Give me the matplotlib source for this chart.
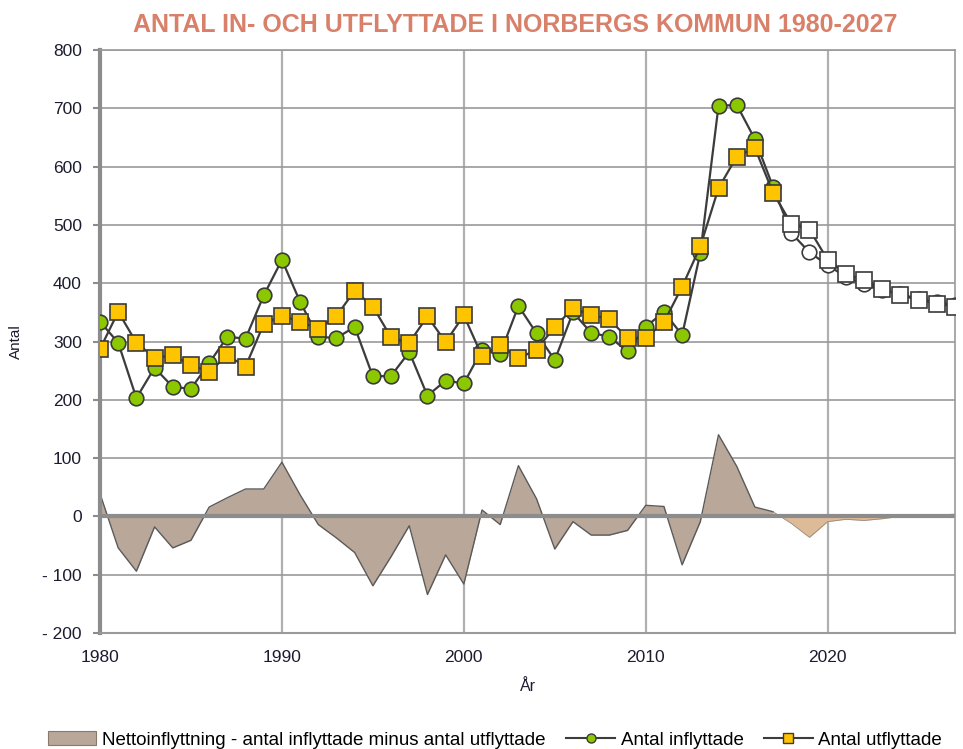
import matplotlib
matplotlib.use("Agg")
import matplotlib.pyplot as plt
from matplotlib.lines import Line2D
from matplotlib.patches import Patch
from matplotlib import font_manager as fm

years = list(range(1980, 2028))

inflyttade = [334, 298, 203, 255, 222, 219, 263, 308, 305, 379,
              440, 368, 308, 306, 325, 240, 241, 282, 207, 233,
              228, 286, 279, 361, 314, 268, 350, 315, 308, 283,
              325, 351, 311, 452, 704, 706, 647, 565, 486, 453,
              431, 411, 398, 388, 381, 373, 367, 363]

utflyttade = [287, 351, 298, 272, 276, 260, 248, 276, 257, 330,
              344, 334, 322, 344, 387, 360, 307, 298, 343, 299,
              345, 275, 294, 271, 286, 325, 357, 346, 338, 306,
              306, 333, 394, 463, 563, 617, 632, 555, 502, 492,
              440, 416, 405, 390, 380, 371, 365, 360]

netto = [39, -54, -94, -18, -54, -41, 16, 32, 47, 47,
         93, 37, -14, -37, -62, -119, -69, -16, -134, -66,
         -116, 11, -14, 87, 30, -56, -9, -32, -32, -24,
         19, 17, -83, -9, 140, 86, 16, 8, -12, -36,
         -9, -5, -7, -4, 0, 1, 2, 4]

last_hist_year = 2017
yticks = [800, 700, 600, 500, 400, 300, 200, 100, 0, -100, -200]
ytick_labels = ["800", "700", "600", "500", "400", "300", "200", "100", "0", "- 100", "- 200"]
xticks = [1980, 1990, 2000, 2010, 2020]

title = "ANTAL IN- OCH UTFLYTTADE I NORBERGS KOMMUN 1980-2027"
leg_labels = ["Nettoinflyttning - antal inflyttade minus antal utflyttade",
              "Antal inflyttade", "Antal utflyttade"]

avail = {f.name for f in fm.fontManager.ttflist}
narrow = "Liberation Sans Narrow" if "Liberation Sans Narrow" in avail else "Liberation Sans"
base = "Liberation Sans" if "Liberation Sans" in avail else "DejaVu Sans"
plt.rcParams['font.family'] = [base, 'DejaVu Sans']

fig = plt.figure(figsize=(9.63, 7.49), dpi=100)
ax = fig.add_axes([100/963, 1-633/749, 855/963, 583/749])

hist_idx = [i for i, y in enumerate(years) if y <= last_hist_year]
fc_idx = [i for i, y in enumerate(years) if y >= last_hist_year]
hy = [years[i] for i in hist_idx]
fy = [years[i] for i in fc_idx]

net_col = "#B9A899"
net_fc_col = "#DEBB98"
ax.fill_between(hy, [netto[i] for i in hist_idx], 0, color=net_col, lw=0, zorder=2)
ax.plot(hy, [netto[i] for i in hist_idx], color="#5a5a5a", lw=1.0, zorder=2.1)
ax.fill_between(fy, [netto[i] for i in fc_idx], 0, color=net_fc_col, lw=0, zorder=2)
ax.plot(fy, [netto[i] for i in fc_idx], color="#9a8a7a", lw=0.6, zorder=2.1)

ax.axhline(0, color="#8c8c8c", lw=3, zorder=2.5)

line_col = "#3c3c3c"
edge_col = "#3a3a3a"
green = "#8CC800"
yellow = "#FFC400"

ax.plot(hy, [inflyttade[i] for i in hist_idx], color=line_col, lw=1.6, marker="o",
        ms=10.5, mfc=green, mec=edge_col, mew=1.2, zorder=4)
ax.plot(fy, [inflyttade[i] for i in fc_idx], color=line_col, lw=1.6, marker="o",
        ms=10.5, mfc="white", mec=edge_col, mew=1.2, markevery=list(range(1, len(fy))), zorder=3.5)
ax.plot(hy, [utflyttade[i] for i in hist_idx], color=line_col, lw=1.6, marker="s",
        ms=11, mfc=yellow, mec=edge_col, mew=1.2, zorder=5)
ax.plot(fy, [utflyttade[i] for i in fc_idx], color=line_col, lw=1.6, marker="s",
        ms=11, mfc="white", mec=edge_col, mew=1.2, markevery=list(range(1, len(fy))), zorder=4.5)

ax.set_xlim(1980, 2027)
ax.set_ylim(-200, 800)
ax.set_yticks(yticks)
ax.set_yticklabels(ytick_labels)
ax.set_xticks(xticks)
ax.tick_params(axis='both', labelsize=12.5, colors="#1c1c30")
ax.tick_params(axis='y', color="#8c8c8c", length=5, width=1.5, pad=8)
ax.tick_params(axis='x', length=0, pad=12)

ax.grid(True, axis='y', color="#9a9a9a", lw=1.2, zorder=1)
ax.grid(True, axis='x', color="#b0b0b0", lw=1.6, zorder=1)
ax.set_axisbelow(True)

for s in ['top', 'right']:
    ax.spines[s].set_color("#9a9a9a")
    ax.spines[s].set_linewidth(1.2)
ax.spines['left'].set_color("#8c8c8c")
ax.spines['left'].set_linewidth(3)
ax.spines['bottom'].set_color("#9a9a9a")
ax.spines['bottom'].set_linewidth(1.5)

ax.set_xlabel("År", fontsize=11.5, color="#1c1c30", labelpad=10)
ax.set_ylabel("Antal", fontsize=11, color="#1c1c30", labelpad=14)

fig.text(0.535, 1-25/749, title, ha="center", va="center", fontsize=18,
         fontweight="bold", color="#D9806A")

handles = [Patch(facecolor=net_col, edgecolor="#8a7a6a", lw=0.8),
           Line2D([0], [0], color=line_col, lw=1.5, marker="o", ms=6.5, mfc=green, mec=edge_col),
           Line2D([0], [0], color=line_col, lw=1.5, marker="s", ms=6.5, mfc=yellow, mec=edge_col)]
fig.legend(handles, leg_labels, loc="center", bbox_to_anchor=(0.514, 1-740/749), ncol=3,
           frameon=False, prop={'family': narrow, 'size': 13.5}, handlelength=2.6,
           handletextpad=0.3, columnspacing=1.1, borderaxespad=0)

fig.savefig("out.png", dpi=100)
